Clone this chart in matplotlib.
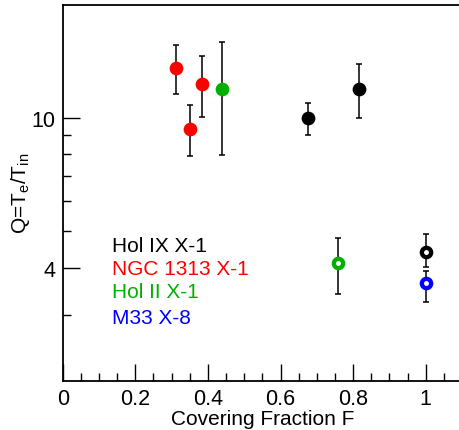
import numpy as np
import matplotlib
matplotlib.use("Agg")
import matplotlib.pyplot as plt
from matplotlib.ticker import FixedLocator, NullFormatter, FixedFormatter

plt.rcParams['font.family'] = ['Liberation Sans', 'DejaVu Sans']
plt.rcParams['mathtext.fontset'] = 'custom'
plt.rcParams['mathtext.rm'] = 'Liberation Sans'
plt.rcParams['mathtext.it'] = 'Liberation Sans:italic'

# Q values with asymmetric errors (upper, lower bounds)
sources = ["Hol IX X-1", "NGC 1313 X-1", "Hol II X-1", "M33 X-8"]
colors = ["#000000", "#ff0000", "#00b000", "#0000ff"]

# filled circles: free covering fraction
fill_src = [1, 1, 1, 2, 0, 0]
fill_F = [0.311, 0.350, 0.383, 0.440, 0.675, 0.817]
fill_Q = [13.6, 9.37, 12.3, 11.97, 10.0, 11.97]
fill_hi = [15.6, 10.8, 14.6, 15.97, 10.98, 13.94]
fill_lo = [11.6, 7.94, 10.08, 7.99, 9.0, 9.98]

# open circles
open_src = [2, 0, 3]
open_F = [0.757, 1.0, 1.0]
open_Q = [4.11, 4.40, 3.63]
open_hi = [4.80, 4.91, 3.92]
open_lo = [3.40, 4.01, 3.23]

fig = plt.figure(figsize=(4.59, 4.31), dpi=100)
ax = fig.add_axes([0.1366, 0.1144, 0.870, 0.872])

for s, F, Q, hi, lo in zip(fill_src, fill_F, fill_Q, fill_hi, fill_lo):
    ax.errorbar(F, Q, yerr=[[Q - lo], [hi - Q]], fmt='none', ecolor='black',
                elinewidth=1.1, capsize=2.0, capthick=1.1, zorder=2)
    ax.plot(F, Q, 'o', color=colors[s], markersize=9.9, markeredgewidth=0, zorder=3)

for s, F, Q, hi, lo in zip(open_src, open_F, open_Q, open_hi, open_lo):
    ax.errorbar(F, Q, yerr=[[Q - lo], [hi - Q]], fmt='none', ecolor='black',
                elinewidth=1.1, capsize=2.0, capthick=1.1, zorder=2)
    ax.plot(F, Q, 'o', markerfacecolor='white', markeredgecolor=colors[s],
            markersize=6.7, markeredgewidth=3.1, zorder=3)

ax.set_yscale('log')
ax.set_ylim(2, 20)
ax.set_xlim(0, 1.1)

ax.yaxis.set_major_locator(FixedLocator([4, 10]))
ax.yaxis.set_major_formatter(FixedFormatter(["4", "10"]))
ax.yaxis.set_minor_locator(FixedLocator([3, 5, 6, 7, 8, 9]))
ax.yaxis.set_minor_formatter(NullFormatter())

ax.set_xticks([0, 0.2, 0.4, 0.6, 0.8, 1.0])
ax.set_xticklabels(["0", "0.2", "0.4", "0.6", "0.8", "1"])
ax.set_xticks(np.arange(0.05, 1.1, 0.05), minor=True)

ax.tick_params(which='both', direction='in', labelsize=15.5, width=1.0,
               top=False, right=False)
ax.tick_params(which='major', length=12)
ax.tick_params(which='minor', length=5.5)
ax.tick_params(axis='y', pad=5)
ax.tick_params(axis='x', pad=5)

for sp in ax.spines.values():
    sp.set_linewidth(1.3)

ax.set_xlabel("Covering Fraction F", fontsize=15, labelpad=0)
ax.set_ylabel(r"Q=T$_{\rm e}$/T$_{\rm in}$", fontsize=15, labelpad=0)

label_y = [0.359, 0.299, 0.237, 0.169]
for name, c, yy in zip(sources, colors, label_y):
    ax.text(0.1235, yy, name, color=c, fontsize=15, transform=ax.transAxes,
            ha='left', va='center')

fig.savefig("out.png", dpi=100)
